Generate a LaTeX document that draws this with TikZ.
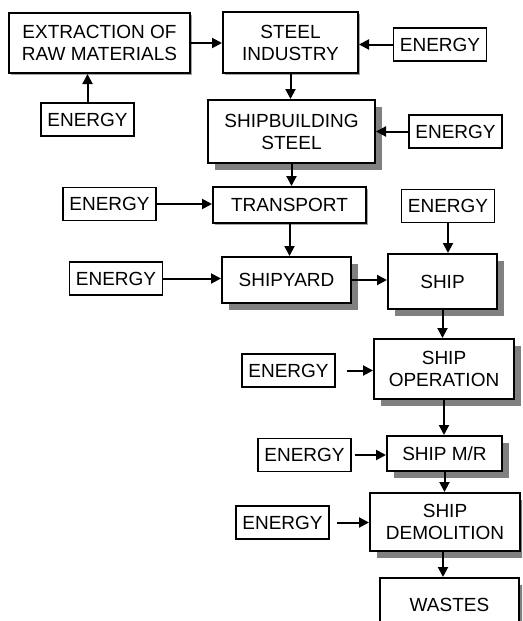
\documentclass[tikz,border=0pt]{standalone}
\usepackage{fontspec}
\setmainfont{Liberation Sans}
\usetikzlibrary{arrows.meta, shadows}

\begin{document}
\begin{tikzpicture}[
    x=1pt, y=-1pt,
    >={Triangle[length=10pt, width=10pt]},
    font=\fontsize{19}{22}\selectfont,
    box/.style   ={draw, line width=2pt, fill=white, align=center,
                   inner sep=0pt},
    stage/.style ={box, drop shadow={shadow xshift=7pt, shadow yshift=-7pt,
                   fill=gray, opacity=1}},
    thin/.style  ={box, drop shadow={shadow xshift=2pt, shadow yshift=-2pt,
                   fill=gray!70, opacity=1}},
    energy/.style={draw, line width=1.6pt, fill=white, inner sep=0pt,
                   minimum width=93pt, minimum height=33pt},
    flow/.style  ={->, line width=2pt}
  ]
  \useasboundingbox (0,0) rectangle (522,621);
  \clip (0,0) rectangle (522,621);

  % ---- process chain ---------------------------------------------------
  \node[thin,  minimum width=181pt, minimum height=60pt] (extr)  at (99.5,43)
        {EXTRACTION OF\\RAW MATERIALS};
  \node[thin,  minimum width=135pt, minimum height=61pt] (steel) at (290.5,42.5)
        {STEEL\\INDUSTRY};
  \node[stage, minimum width=167pt, minimum height=63pt] (shipb) at (291.5,131.5)
        {SHIPBUILDING\\STEEL};
  \node[thin,  minimum width=153pt, minimum height=36pt] (trans) at (289.5,205)
        {TRANSPORT};
  \node[stage, minimum width=129pt, minimum height=46pt] (yard)  at (286.5,280)
        {SHIPYARD};
  \node[stage, minimum width=109pt, minimum height=55pt] (ship)  at (442.5,281.5)
        {SHIP};
  \node[stage, minimum width=140pt, minimum height=60pt] (oper)  at (444,369)
        {SHIP\\OPERATION};
  \node[stage, minimum width=115pt, minimum height=35pt] (mr)    at (444.5,453.5)
        {SHIP M/R};
  \node[stage, minimum width=150pt, minimum height=58pt] (demo)  at (445,522)
        {SHIP\\DEMOLITION};
  \node[stage, minimum width=139pt, minimum height=54pt] (waste) at (449.5,605)
        {WASTES};

  % ---- energy inputs ---------------------------------------------------
  \node[energy] (e0) at (87.5,119.5) {ENERGY};
  \node[energy] (e1) at (440,44.5)   {ENERGY};
  \node[energy] (e2) at (455.5,131.5){ENERGY};
  \node[energy] (e3) at (109.5,204)  {ENERGY};
  \node[energy] (e4) at (448,206)    {ENERGY};
  \node[energy] (e5) at (116,278.5)  {ENERGY};
  \node[energy] (e6) at (288.5,370.5){ENERGY};
  \node[energy] (e7) at (304.5,455)  {ENERGY};
  \node[energy] (e8) at (282.5,522.5){ENERGY};

  % ---- main flow -------------------------------------------------------
  \draw[flow] (extr.east) -- (extr.east -| steel.west);
  \draw[flow] (steel.south) -- (steel.south |- shipb.north);
  \draw[flow] (shipb.south) -- (shipb.south |- trans.north);
  \draw[flow] (trans.south) -- (trans.south |- yard.north);
  \draw[flow] (yard.east) -- (yard.east -| ship.west);
  \draw[flow] (ship.south) -- (ship.south |- oper.north);
  \draw[flow] (oper.south) -- (oper.south |- mr.north);
  \draw[flow] (mr.south) -- (mr.south |- demo.north);
  \draw[flow] ([xshift=-2pt]demo.south) -- ([xshift=-2pt]demo.south |- waste.north);

  % ---- energy arrows ---------------------------------------------------
  \draw[flow] (e0.north) -- (e0.north |- extr.south);
  \draw[flow] (e1.west) -- (e1.west -| steel.east);
  \draw[flow] (e2.west) -- (e2.west -| shipb.east);
  \draw[flow] (e3.east) -- (e3.east -| trans.west);
  \draw[flow] (e4.south) -- (e4.south |- ship.north);
  \draw[flow] (e5.east) -- (e5.east -| yard.west);
  \draw[flow, shorten <=11pt] (e6.east) -- (e6.east -| oper.west);
  \draw[flow, shorten <=3pt]  (e7.east) -- (e7.east -| mr.west);
  \draw[flow, shorten <=7pt]  (e8.east) -- (e8.east -| demo.west);

\end{tikzpicture}
\end{document}
